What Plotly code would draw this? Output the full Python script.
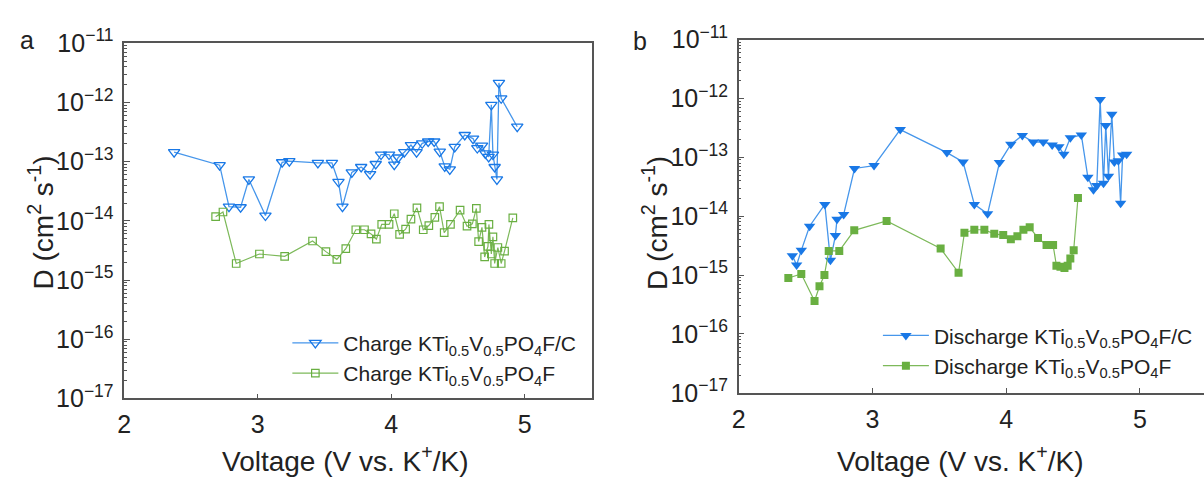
import plotly.graph_objects as go

# ---------------- data (log10 of D, cm^2 s^-1) ----------------
charge_c_v = [2.373, 2.714, 2.784, 2.871, 2.933, 3.057, 3.182, 3.236, 3.450, 3.555, 3.604, 3.634,
              3.704, 3.774, 3.841, 3.883, 3.923, 3.983, 4.022, 4.052, 4.097, 4.147, 4.189, 4.231,
              4.276, 4.321, 4.363, 4.400, 4.438, 4.475, 4.550, 4.612, 4.644, 4.679, 4.704, 4.729,
              4.749, 4.761, 4.774, 4.791, 4.806, 4.823, 4.943]
charge_c_logd = [-12.84, -13.06, -13.76, -13.77, -13.30, -13.91, -13.01, -12.99, -13.02, -13.02, -13.34, -13.76,
                 -13.18, -13.09, -13.21, -13.04, -12.88, -12.88, -13.05, -12.93, -12.84, -12.72, -12.84, -12.69,
                 -12.66, -12.66, -12.83, -13.08, -13.13, -12.75, -12.55, -12.61, -12.77, -12.73, -12.86, -12.92,
                 -12.04, -12.88, -13.09, -13.30, -11.67, -11.93, -12.41]

charge_v = [2.684, 2.739, 2.838, 3.012, 3.201, 3.410, 3.510, 3.592, 3.659, 3.734, 3.799, 3.848, 3.888,
            3.928, 3.983, 4.022, 4.062, 4.107, 4.147, 4.192, 4.239, 4.281, 4.326, 4.361, 4.396, 4.443,
            4.515, 4.567, 4.607, 4.637, 4.654, 4.679, 4.699, 4.724, 4.731, 4.749, 4.761, 4.774, 4.798,
            4.823, 4.848, 4.910]
charge_logd = [-13.93, -13.85, -14.72, -14.56, -14.60, -14.34, -14.52, -14.65, -14.47, -14.15, -14.15, -14.22,
               -14.31, -14.06, -14.06, -13.88, -14.23, -14.14, -13.97, -13.78, -14.15, -14.08, -13.94, -13.76,
               -14.20, -14.06, -13.82, -14.09, -14.05, -13.79, -14.35, -14.11, -14.61, -14.43, -14.06, -14.56,
               -14.27, -14.72, -14.45, -14.72, -14.51, -13.95]

dis_c_v = [2.401, 2.433, 2.468, 2.530, 2.644, 2.686, 2.723, 2.735, 2.785, 2.866, 3.012, 3.208, 3.557,
           3.678, 3.762, 3.861, 3.950, 4.035, 4.121, 4.203, 4.277, 4.344, 4.394, 4.431, 4.480, 4.562,
           4.611, 4.653, 4.678, 4.703, 4.728, 4.745, 4.765, 4.790, 4.809, 4.839, 4.856, 4.871, 4.901]
dis_c_logd = [-14.67, -14.83, -14.58, -14.17, -13.80, -14.75, -14.33, -14.05, -13.97, -13.19, -13.14, -12.53, -12.92,
              -13.08, -13.80, -13.96, -13.09, -12.78, -12.63, -12.74, -12.74, -12.79, -12.82, -12.95, -12.67, -12.62,
              -13.34, -13.55, -13.48, -12.02, -13.44, -12.46, -13.32, -12.27, -13.08, -13.06, -13.78, -12.96, -12.95]

dis_v = [2.371, 2.468, 2.567, 2.604, 2.641, 2.673, 2.752, 2.864, 3.106, 3.510, 3.644, 3.688, 3.762, 3.837,
         3.911, 3.978, 4.035, 4.084, 4.129, 4.176, 4.238, 4.302, 4.351, 4.376, 4.406, 4.436, 4.460, 4.480,
         4.505, 4.537]
dis_logd = [-15.05, -14.98, -15.44, -15.19, -15.00, -14.59, -14.59, -14.24, -14.08, -14.55, -14.96, -14.28, -14.23,
            -14.23, -14.30, -14.32, -14.39, -14.34, -14.23, -14.19, -14.37, -14.49, -14.49, -14.84, -14.86, -14.88,
            -14.84, -14.72, -14.58, -13.69]

decades = [-17, -16, -15, -14, -13, -12, -11]
x_ticks = [2, 3, 4, 5]

BLUE_M = "rgb(25,120,230)"
BLUE_L = "rgb(70,150,235)"
GREEN_M = "rgb(105,175,65)"
GREEN_L = "rgb(125,185,90)"
AXC = "#555555"
FONT = "Liberation Sans, Arial, sans-serif"

def vals(lst):
    return [10 ** v for v in lst]

tickvals = [10.0 ** d for d in decades]
ticktext = ["10<sup>\u2212%d</sup>" % (-d) for d in decades]
minorvals = [m * 10.0 ** d for d in decades[:-1] for m in range(2, 10)]

fig = go.Figure()

fig.add_trace(go.Scatter(
    x=charge_c_v, y=vals(charge_c_logd), mode="lines+markers",
    name="Charge KTi<sub>0.5</sub>V<sub>0.5</sub>PO<sub>4</sub>F/C",
    line=dict(color=BLUE_L, width=1.3),
    marker=dict(symbol="triangle-down-open", size=10, color=BLUE_M, line=dict(width=1.3, color=BLUE_M)),
    xaxis="x", yaxis="y", legend="legend"))
fig.add_trace(go.Scatter(
    x=charge_v, y=vals(charge_logd), mode="lines+markers",
    name="Charge KTi<sub>0.5</sub>V<sub>0.5</sub>PO<sub>4</sub>F",
    line=dict(color=GREEN_L, width=1.2),
    marker=dict(symbol="square-open", size=7.5, color=GREEN_M, line=dict(width=1.2, color=GREEN_M)),
    xaxis="x", yaxis="y", legend="legend"))
fig.add_trace(go.Scatter(
    x=dis_c_v, y=vals(dis_c_logd), mode="lines+markers",
    name="Discharge KTi<sub>0.5</sub>V<sub>0.5</sub>PO<sub>4</sub>F/C",
    line=dict(color=BLUE_L, width=1.3),
    marker=dict(symbol="triangle-down", size=10, color=BLUE_M, line=dict(width=0)),
    xaxis="x2", yaxis="y2", legend="legend2"))
fig.add_trace(go.Scatter(
    x=dis_v, y=vals(dis_logd), mode="lines+markers",
    name="Discharge KTi<sub>0.5</sub>V<sub>0.5</sub>PO<sub>4</sub>F",
    line=dict(color=GREEN_L, width=1.2),
    marker=dict(symbol="square", size=8, color=GREEN_M, line=dict(width=0)),
    xaxis="x2", yaxis="y2", legend="legend2"))

W, H = 1204, 491
def px_x(p): return p / W
def px_y(p): return 1 - p / H

xa_common = dict(range=[2, 5.5], tickvals=x_ticks, ticks="inside", ticklen=5, tickwidth=1,
                 tickcolor=AXC, showline=True, linecolor=AXC, linewidth=1.5, showgrid=False,
                 zeroline=False, tickfont=dict(size=25, color="#222"), ticklabelstandoff=3)
ya_common = dict(type="log", range=[-17, -11], tickvals=tickvals, ticktext=ticktext, ticks="inside",
                 ticklen=6, tickwidth=1, tickcolor=AXC, showline=True, linecolor=AXC, linewidth=1.5,
                 showgrid=False, zeroline=False, tickfont=dict(size=25, color="#222"),
                 minor=dict(tickvals=minorvals, ticks="inside", ticklen=3, tickwidth=1, tickcolor=AXC),
                 ticklabelstandoff=4)

fig.update_layout(
    width=W, height=H, margin=dict(l=0, r=0, t=0, b=0),
    paper_bgcolor="white", plot_bgcolor="white",
    font=dict(family=FONT, color="#222"),
    xaxis=dict(domain=[px_x(118), px_x(588)], anchor="y", mirror=True, **xa_common),
    yaxis=dict(domain=[px_y(407), px_y(27)], anchor="x", mirror=True, **ya_common),
    xaxis2=dict(domain=[px_x(736), 1.0], anchor="y2", mirror=True,
                **{**xa_common, "range": [2, 2 + (W - 736) / 134.5]}),
    yaxis2=dict(domain=[px_y(401), px_y(23)], anchor="x2", mirror=False, **ya_common),
    legend=dict(x=px_x(282), y=px_y(326), xanchor="left", yanchor="top", bgcolor="rgba(0,0,0,0)",
                font=dict(size=21, color="#222"), itemwidth=46, tracegroupgap=0),
    legend2=dict(x=px_x(876), y=px_y(318), xanchor="left", yanchor="top", bgcolor="rgba(0,0,0,0)",
                 font=dict(size=21, color="#222"), itemwidth=46, tracegroupgap=0),
    showlegend=True,
)

ann = [
    dict(text="a", x=px_x(20), y=px_y(24), font=dict(size=25)),
    dict(text="b", x=px_x(637), y=px_y(25), font=dict(size=25)),
    dict(text="Voltage (V vs. K<sup>+</sup>/K)", x=px_x(340), y=px_y(472), font=dict(size=28)),
    dict(text="Voltage (V vs. K<sup>+</sup>/K)", x=px_x(959), y=px_y(472), font=dict(size=28)),
    dict(text="D (cm<sup>2</sup> s<sup>-1</sup>)", x=px_x(34), y=px_y(219), textangle=-90, font=dict(size=28)),
    dict(text="D (cm<sup>2</sup> s<sup>-1</sup>)", x=px_x(652), y=px_y(219), textangle=-90, font=dict(size=28)),
]
for a in ann:
    a.update(xref="paper", yref="paper", showarrow=False, xanchor="center", yanchor="middle")
    a["font"].update(family=FONT, color="#222")
fig.update_layout(annotations=ann)

fig.write_html("out.html")
